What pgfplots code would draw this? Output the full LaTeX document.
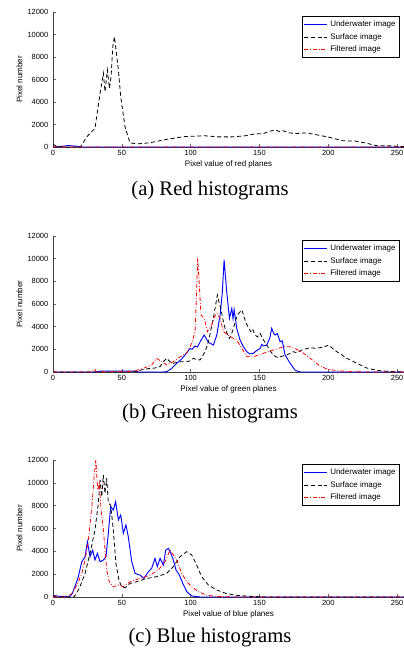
\documentclass[border=0pt]{standalone}
\usepackage{fontspec}
\setmainfont{Liberation Serif}
\newfontfamily\arialfont{Liberation Sans}
\usepackage{pgfplots}
\pgfplotsset{compat=1.18}

\pgfplotsset{
  histo/.style={
    scale only axis, width=263.25pt,
    xmin=0, xmax=255, ymin=0, ymax=12000,
    xtick={0,50,...,250}, ytick={0,2000,...,12000},
    axis x line*=bottom, axis y line*=left,
    axis line style={-, black!75, line width=0.6pt},
    tick align=inside, major tick length=2pt,
    tick style={black!60, line width=0.4pt},
    scaled ticks=false,
    /pgf/number format/1000 sep={},
    /pgf/number format/assume math mode=true,
    tick label style={font=\arialfont\fontsize{5.6}{6}\selectfont},
    xticklabel style={yshift=1pt},
    label style={font=\arialfont\fontsize{6}{7}\selectfont},
    xlabel style={yshift=3pt},
    ylabel style={yshift=-3pt},
    ylabel={Pixel number},
    clip=false,
    legend cell align=left,
    legend image code/.code={\draw[##1, line width=0.75pt] (0pt,0pt) -- (17pt,0pt);},
    legend style={at={(rel axis cs:0.99,0.97)}, anchor=north east,
      font=\arialfont\fontsize{6}{7}\selectfont,
      draw, line width=0.9pt, inner sep=1.2pt, row sep=-0.6pt},
  },
  uw/.style={draw=blue, solid, line width=0.7pt},
  sf/.style={draw=black, dash pattern=on 3pt off 2pt, line width=0.6pt},
  fl/.style={draw=red, dash pattern=on 3pt off 1.4pt on 0.6pt off 1.4pt, line width=0.6pt},
}

\begin{document}
\begin{tikzpicture}
\useasboundingbox (0pt,0pt) rectangle (302.25pt,-489pt);

% (a) red
\begin{axis}[histo, height=101.25pt, at={(39.75pt,-110.25pt)}, anchor=south west,
  xlabel={Pixel value of red planes}]
\addplot[uw] coordinates {(0,0)(3,30)(8,80)(11,130)(14,100)(18,60)(21,0)(255,0)};
\addplot[sf] coordinates {(0,250)(2,100)(5,30)(10,0)(20,0)(24.5,900)(30.5,1660)(34.2,4770)
 (36.6,6550)(37.8,4920)(39.5,6850)(41,5220)(42.2,6250)(43.4,8900)(44.6,9800)(45.8,8620)
 (47.5,6850)(49.2,4470)(52.3,1800)(55.9,380)(60.8,270)(70.5,380)(82.6,680)(94.7,915)
 (100,950)(110,1000)(120,900)(130,900)(140,1000)(146,1150)(153,1200)(158,1420)(162,1500)
 (165,1350)(167,1450)(172,1250)(177,1200)(183,1250)(189,1150)(195,1000)(201,860)(210,560)
 (220,520)(228,330)(235,120)(245,100)(255,30)};
\addplot[fl] coordinates {(0,0)(5,30)(10,0)(255,0)};
\legend{Underwater image, Surface image, Filtered image}
\end{axis}

% (b) green
\begin{axis}[histo, height=102pt, at={(39.75pt,-279pt)}, anchor=south west,
  xlabel={Pixel value of green planes}]
\addplot[uw] coordinates {(0,0)(30,0)(35,80)(60,80)(62,0)(80,0)(82.6,30)(86,300)(89.9,765)
 (93,1100)(95.9,1500)(99.6,2090)(101,2000)(103.2,2300)(105,2200)(106.9,2670)(109.8,3260)
 (112.9,2620)(116.5,2380)(119,3260)(121.4,5030)(123,7000)(124.3,9880)(126.2,7080)(128.2,4740)
 (129.9,5620)(130.8,4700)(131.6,5500)(133.5,3850)(135.9,2820)(138,2300)(140.8,1790)(143,1600)
 (145.6,1650)(148,1900)(150.5,2090)(151.7,2450)(152.9,2300)(155.3,2380)(157.5,3000)(158.9,3850)
 (160,3500)(161.3,3260)(163,3400)(165,2670)(166.5,2750)(168.6,1500)(172.3,765)(175.9,150)
 (179.6,0)(255,0)};
\addplot[sf] coordinates {(0,0)(55,0)(60.8,80)(65,200)(70.5,320)(74,350)(77.8,470)(80,900)
 (82.6,1210)(85,900)(87.4,765)(90,850)(93.5,910)(97.1,910)(100,1000)(102,1210)(104,1100)
 (106.8,1060)(108.5,1400)(110.5,1790)(112.9,2670)(114,3300)(116.5,4740)(118,5800)(119.4,6790)
 (120.5,6200)(121.9,5620)(123.5,4600)(125,3850)(126.5,3400)(128.2,2970)(129.5,3300)(131.1,3850)
 (132.5,4500)(134,5030)(137.2,5480)(140.3,4300)(143.7,3560)(145,3800)(146.8,3260)(148.5,3100)
 (150.5,3410)(152,3000)(155.3,2380)(157.5,1900)(160.1,1500)(162.5,1300)(165,1350)(169.8,1500)
 (174.7,1790)(177,1700)(180.7,1940)(186.8,2150)(190,2100)(194.1,2150)(197,2200)(200.1,2380)
 (203,2100)(206.2,1790)(213.5,1210)(220.7,765)(228,350)(235.2,150)(242.5,60)(249.8,30)(255,0)};
\addplot[fl] coordinates {(0,0)(28,0)(30.5,250)(31.5,0)(58.4,60)(65.6,320)(71.7,620)
 (75.3,1210)(79,910)(82.6,620)(87.4,910)(92.3,1350)(97.1,1650)(100.8,2530)(103.2,3560)
 (104.3,7000)(105.1,10020)(106.3,7670)(107.5,5030)(109.8,4740)(112.2,3560)(115.3,4150)
 (117,4800)(119,5180)(121.4,4740)(123.8,3560)(128.7,3120)(133.5,2820)(137.2,2090)(140.8,1350)
 (145.6,1350)(152.9,1650)(160.1,1940)(167.4,2230)(172.3,2230)(177.1,2000)(182,1650)
 (186.8,1210)(192.9,620)(198.9,260)(206.2,120)(215.9,30)(228,0)(255,0)};
\legend{Underwater image, Surface image, Filtered image}
\end{axis}

% (c) blue
\begin{axis}[histo, height=102.75pt, at={(39.75pt,-447.75pt)}, anchor=south west,
  xlabel={Pixel value of blue planes}]
\addplot[uw] coordinates {(0,150)(3,80)(6,50)(12.3,50)(14,300)(15.9,900)(18.4,1780)
 (20.9,3090)(23.3,3530)(25,4850)(26.9,3530)(28.8,4110)(30.5,3240)(32.2,3820)(34.2,3090)
 (36.6,3240)(38.5,3530)(40.2,5580)(41.9,7910)(43.8,7620)(45.5,8350)(47.5,6750)(49.2,7190)
 (51.1,5580)(53,6310)(54.7,5280)(57.2,3090)(59.6,2070)(63.2,1920)(66.1,1630)(69.3,2220)
 (71.7,2510)(74.1,3380)(75.8,2660)(77.8,3380)(80.2,2800)(81.9,4110)(83.8,4260)(85.6,3820)
 (87.5,3240)(89.4,2360)(91.8,1920)(94.3,1190)(97.2,470)(100.8,90)(106.9,0)(255,0)};
\addplot[sf] coordinates {(0,100)(3,0)(15,0)(17,300)(19.6,900)(23.3,2070)(26.9,3820)
 (30.5,5870)(32.9,8210)(34.2,10250)(35.4,8790)(36.6,10690)(37.8,9080)(39,10400)(40.2,8210)
 (41.9,8060)(43.8,5870)(45.7,2950)(47.9,1490)(49.8,900)(52.3,800)(55.9,1190)(60.8,1340)
 (68.1,1630)(75.3,1780)(82.6,2070)(87.4,2660)(92.3,3530)(97.1,3970)(100.8,3680)(104.4,2800)
 (108,1780)(112.9,1050)(119,610)(126.2,290)(133.5,150)(143.2,60)(155.3,0)(255,0)};
\addplot[fl] coordinates {(0,100)(5,0)(10,0)(13.6,290)(17.3,1020)(20.9,2070)(23.3,3240)
 (25.7,5000)(28.2,7910)(29.9,10540)(31.1,12000)(32.5,9370)(33.7,9960)(34.9,7620)(36.6,5870)
 (37.8,4110)(39,2360)(40.9,1340)(43.8,900)(47.5,1050)(51.1,900)(55.9,1340)(63.2,1630)
 (70.5,1920)(76.5,2360)(81.4,3090)(85,4110)(87.5,3680)(89.9,3240)(93.5,2070)(97.2,1340)
 (100.8,900)(105.6,470)(111.6,150)(119,60)(131,0)(255,0)};
\legend{Underwater image, Surface image, Filtered image}
\end{axis}

\node[font=\fontsize{15.5}{18}\selectfont] at (157.5pt,-143.25pt) {(a) Red histograms};
\node[font=\fontsize{15.5}{18}\selectfont] at (157.5pt,-310.5pt) {(b) Green histograms};
\node[font=\fontsize{15.5}{18}\selectfont] at (157.5pt,-478.5pt) {(c) Blue histograms};
\end{tikzpicture}
\end{document}
